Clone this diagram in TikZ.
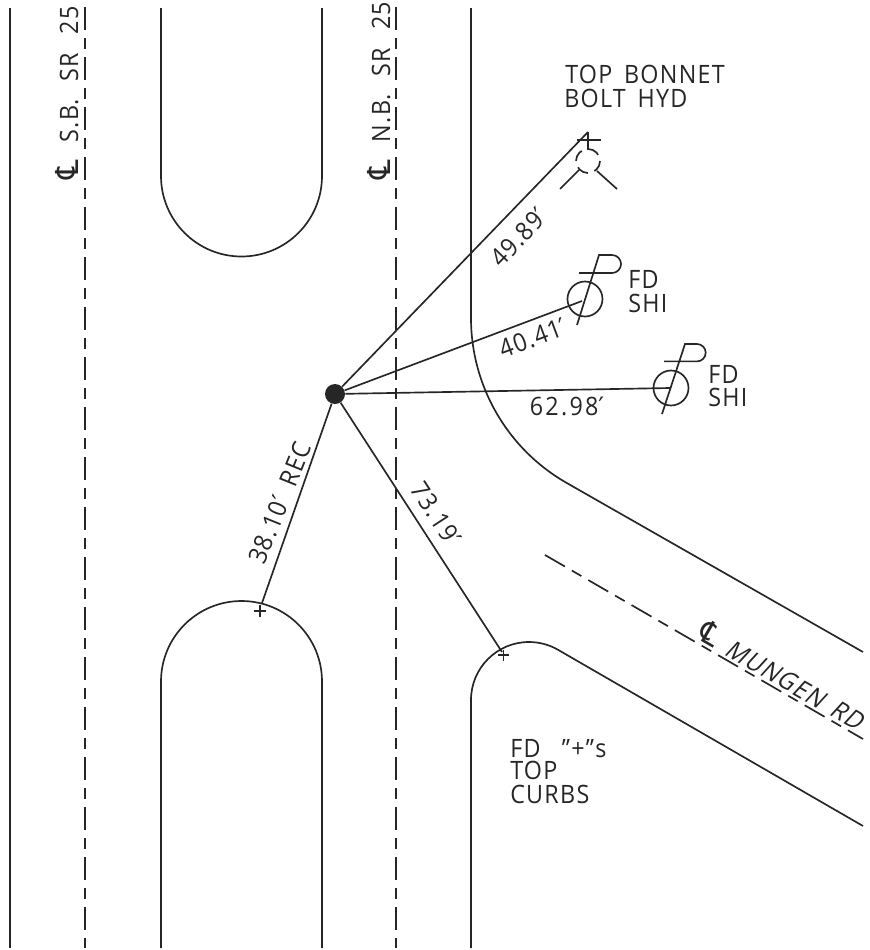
\documentclass[tikz,border=0pt]{standalone}
\usepackage{fontspec}
\setmainfont{Open Sans}[LetterSpace=5,WordSpace=1.6,FakeStretch=0.92]
\newfontfamily\djv{DejaVu Sans}
\newfontface\slantf{Open Sans}[LetterSpace=5,WordSpace=1.6,FakeStretch=0.92,FakeSlant=0.22]
\newcommand{\prm}{{\djv ′}}
\newcommand{\cln}{\scalebox{1.2}[1.25]{\djv ℄}}
\newcommand{\gap}{\hspace*{10pt}}
\newcommand{\roadgap}{\hspace*{13.5pt}}
\tikzset{
 ink/.style={draw=black!85,line width=1.25pt},
 center dash/.style={ink,dash pattern=on 17.25pt off 6pt on 8.25pt off 6pt},
 lab/.style={inner sep=0pt,text=black!85,font=\fontsize{19}{19}\selectfont},
 lblw/.style={lab,anchor=base west},
 lbc/.style={lab,anchor=center},
 dot/.style={circle,fill=black!85,minimum size=15pt,inner sep=0pt},
}
\begin{document}
\begin{tikzpicture}[x=0.75pt,y=0.75pt,yscale=-1]
\useasboundingbox (0,0) rectangle (870,950);
% coordinates
\coordinate (eL1) at (10,8); \coordinate (eL2) at (10,948);
\coordinate (cA1) at (85,7); \coordinate (cA2) at (85,948);
\coordinate (cB1) at (396,7); \coordinate (cB2) at (396,948);
\coordinate (mU1) at (161,8); \coordinate (mU2) at (322,8);
\coordinate (mL1) at (161,948); \coordinate (mL2) at (322,948);
\coordinate (kR1) at (471,8); \coordinate (kR2) at (863,652);
\coordinate (kC1) at (471,948); \coordinate (kC2) at (863,826);
\coordinate (cM1) at (545,555); \coordinate (cM2) at (863,739);
\coordinate (hyd) at (588,132);
\coordinate (shiA) at (582,301);
\coordinate (shiB) at (670,388);
\coordinate (recP) at (262,603);
\coordinate (crbP) at (502,652);
\node[dot] (ctr) at (335,394) {};
% edges of road
\draw[ink] (eL1) -- (eL2);
\draw[center dash] (cA1) -- (cA2);
\draw[center dash] (cB1) -- (cB2);
\draw[ink] (mU1) -- (161,176) arc (180:0:80.5) -- (mU2);
\draw[ink] (mL1) -- (161,681.5) arc (180:360:80.5) -- (mL2);
\draw[ink] (kR1) -- (471,318) arc (180:120:190) -- (kR2);
\draw[ink] (kC1) -- (471,700) arc (180:300:58) -- (kC2);
\draw[center dash] (cM1) -- (cM2);
% ties
\draw[ink] (ctr) -- (hyd);
\draw[ink] (ctr) -- (shiA);
\draw[ink] (ctr) -- (shiB);
\draw[ink] (ctr) -- (recP);
\draw[ink] (ctr) -- (crbP);
% hydrant
\draw[ink] (577,140) -- (601,140);
\draw[ink] (hyd) -- (588,150);
\draw[ink,dash pattern=on 9pt off 5.1pt] (588,161) circle (12);
\draw[ink] (579,170) -- (560,189);
\draw[ink] (597,171) -- (617,189);
% shi 1
\draw[ink] (585,299) circle (17.5);
\draw[ink] (577,325) -- (599,255) -- (612,255) arc (-90:90:9) -- (579,273);
% shi 2
\draw[ink] (671,388) circle (17.5);
\draw[ink] (662,414) -- (685,344) -- (697,344) arc (-90:90:8.7) -- (664,361.4);
% plus marks
\draw[ink] (254,611) -- (266,611) (260,605) -- (260,617);
\draw[ink] (498,655) -- (509,655) (503.5,650) -- (503.5,661);
% labels
\node[lblw] (t1) at (565,83) {TOP BONNET};
\node[lblw] (t2) at (564,107) {BOLT HYD};
\node[lblw] (t3) at (628,288) {FD};
\node[lblw] (t4) at (628,312) {SHI};
\node[lblw] (t5) at (708,383) {FD};
\node[lblw] (t6) at (708,406) {SHI};
\node[lblw] (t7) at (510,757) {FD\hspace*{16pt}"+"s};
\node[lblw] (t8) at (510,779) {TOP};
\node[lblw] (t9) at (510,803) {CURBS};
\node[lblw,rotate=90] (t10) at (78,180) {\cln\roadgap S.B.\roadgap SR\roadgap 25};
\node[lblw,rotate=90] (t11) at (390,180) {\cln\roadgap N.B.\roadgap SR\roadgap 25};
\node[lbc,rotate=46] (t12) at (519,237) {49.89\prm};
\node[lbc,rotate=20.5] (t13) at (533,338) {40.41\prm};
\node[lbc] (t14) at (567,406) {\addfontfeature{LetterSpace=9}62.98\prm};
\node[lbc,rotate=68] (t15) at (280,503) {38.10\prm\gap REC};
\node[lbc,rotate=-57] (t16) at (436,514) {73.19\prm};
\node[lbc,rotate=-30,font=\fontsize{19}{19}\slantf] (t17) at (782,675) {\cln\ MUNGEN RD};
\end{tikzpicture}
\end{document}
